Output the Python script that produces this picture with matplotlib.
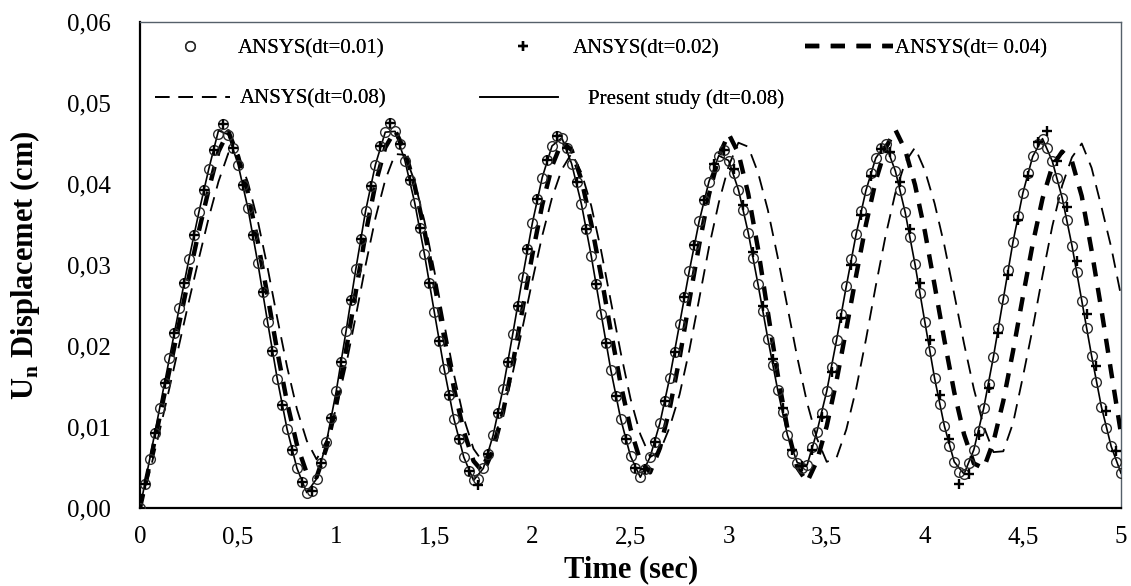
import numpy as np
import matplotlib
matplotlib.use("Agg")
import matplotlib.pyplot as plt
from matplotlib.ticker import FuncFormatter

plt.rcParams['font.family'] = ['Liberation Serif', 'DejaVu Serif']
plt.rcParams['mathtext.fontset'] = 'custom'
plt.rcParams['mathtext.rm'] = 'Liberation Serif'
plt.rcParams['mathtext.bf'] = 'Liberation Serif:bold'

# ---------------- data ----------------
# ANSYS dt=0.01 (circles), sampled every 0.025 s
t_dt001 = np.round(np.arange(0, 5.0001, 0.025), 3)
u_dt001 = [
    0.0000, 0.0030, 0.0061, 0.0092, 0.0123, 0.0154, 0.0185, 0.0216, 0.0247, 0.0278,
    0.0308, 0.0337, 0.0365, 0.0392, 0.0418, 0.0442, 0.0462, 0.0474, 0.0461, 0.0445,
    0.0424, 0.0399, 0.0370, 0.0337, 0.0303, 0.0267, 0.0230, 0.0194, 0.0159, 0.0127,
    0.0097, 0.0071, 0.0049, 0.0032, 0.0019, 0.0021, 0.0036, 0.0056, 0.0081, 0.0111,
    0.0144, 0.0180, 0.0218, 0.0257, 0.0295, 0.0332, 0.0367, 0.0398, 0.0424, 0.0447,
    0.0464, 0.0475, 0.0465, 0.0449, 0.0429, 0.0405, 0.0377, 0.0346, 0.0313, 0.0278,
    0.0242, 0.0206, 0.0172, 0.0140, 0.0110, 0.0085, 0.0063, 0.0046, 0.0034, 0.0036,
    0.0049, 0.0067, 0.0090, 0.0117, 0.0147, 0.0180, 0.0215, 0.0250, 0.0285, 0.0320,
    0.0352, 0.0382, 0.0408, 0.0430, 0.0447, 0.0459, 0.0457, 0.0444, 0.0425, 0.0402,
    0.0375, 0.0344, 0.0311, 0.0276, 0.0240, 0.0204, 0.0170, 0.0138, 0.0110, 0.0085,
    0.0064, 0.0049, 0.0038, 0.0048, 0.0063, 0.0082, 0.0105, 0.0132, 0.0161, 0.0193,
    0.0227, 0.0260, 0.0293, 0.0325, 0.0354, 0.0380, 0.0403, 0.0421, 0.0435, 0.0442,
    0.0429, 0.0413, 0.0393, 0.0368, 0.0340, 0.0309, 0.0276, 0.0243, 0.0209, 0.0177,
    0.0146, 0.0118, 0.0090, 0.0068, 0.0056, 0.0050, 0.0053, 0.0075, 0.0094, 0.0117,
    0.0144, 0.0174, 0.0207, 0.0240, 0.0274, 0.0307, 0.0338, 0.0367, 0.0392, 0.0414,
    0.0432, 0.0444, 0.0449, 0.0433, 0.0416, 0.0393, 0.0365, 0.0334, 0.0301, 0.0266,
    0.0230, 0.0194, 0.0160, 0.0129, 0.0101, 0.0077, 0.0057, 0.0044, 0.0042, 0.0055,
    0.0072, 0.0095, 0.0123, 0.0153, 0.0187, 0.0222, 0.0258, 0.0294, 0.0329, 0.0361,
    0.0389, 0.0414, 0.0434, 0.0449, 0.0456, 0.0444, 0.0428, 0.0408, 0.0383, 0.0355,
    0.0324, 0.0291, 0.0256, 0.0222, 0.0188, 0.0155, 0.0125, 0.0099, 0.0076, 0.0057,
    0.0043,
]

# ANSYS dt=0.02 (plus markers), sampled every 0.05 s starting at 0.025
t_dt002 = np.round(np.arange(0.025, 5.0, 0.05), 3)
u_dt002 = [
    0.0030, 0.0092, 0.0154, 0.0216, 0.0278, 0.0337, 0.0392, 0.0442, 0.0474, 0.0445,
    0.0399, 0.0337, 0.0267, 0.0194, 0.0127, 0.0071, 0.0032, 0.0021, 0.0056, 0.0111,
    0.0180, 0.0257, 0.0332, 0.0398, 0.0447, 0.0475, 0.0449, 0.0405, 0.0346, 0.0278,
    0.0206, 0.0140, 0.0085, 0.0046, 0.0028, 0.0067, 0.0117, 0.0180, 0.0250, 0.0320,
    0.0382, 0.0430, 0.0459, 0.0444, 0.0402, 0.0344, 0.0276, 0.0204, 0.0138, 0.0085,
    0.0049, 0.0048, 0.0082, 0.0132, 0.0193, 0.0260, 0.0325, 0.0380, 0.0425, 0.0442,
    0.0418, 0.0374, 0.0316, 0.0250, 0.0184, 0.0124, 0.0072, 0.0052, 0.0072, 0.0112,
    0.0168, 0.0234, 0.0300, 0.0362, 0.0410, 0.0443, 0.0440, 0.0402, 0.0345, 0.0278,
    0.0207, 0.0140, 0.0085, 0.0030, 0.0042, 0.0090, 0.0148, 0.0216, 0.0288, 0.0356,
    0.0410, 0.0452, 0.0466, 0.0428, 0.0372, 0.0305, 0.0240, 0.0175, 0.0120, 0.0070,
]

# ANSYS dt=0.04 (thick dashed) and dt=0.08 (thin dashed), every 0.05 s
t_grid = np.round(np.arange(0, 5.0001, 0.05), 2)
u_dt004 = [
    0.0000, 0.0055, 0.0112, 0.0170, 0.0228, 0.0286, 0.0342, 0.0393, 0.0440, 0.0465,
    0.0434, 0.0389, 0.0329, 0.0262, 0.0193, 0.0130, 0.0078, 0.0043, 0.0038, 0.0074,
    0.0127, 0.0194, 0.0267, 0.0339, 0.0400, 0.0445, 0.0466, 0.0441, 0.0398, 0.0342,
    0.0278, 0.0211, 0.0148, 0.0095, 0.0058, 0.0044, 0.0072, 0.0118, 0.0178, 0.0246,
    0.0313, 0.0374, 0.0422, 0.0452, 0.0442, 0.0405, 0.0351, 0.0287, 0.0218, 0.0153,
    0.0098, 0.0058, 0.0044, 0.0074, 0.0123, 0.0185, 0.0256, 0.0325, 0.0387, 0.0434,
    0.0462, 0.0438, 0.0388, 0.0320, 0.0242, 0.0165, 0.0098, 0.0050, 0.0032, 0.0058,
    0.0101, 0.0157, 0.0221, 0.0287, 0.0350, 0.0404, 0.0444, 0.0467, 0.0442, 0.0399,
    0.0342, 0.0275, 0.0207, 0.0143, 0.0091, 0.0055, 0.0049, 0.0082, 0.0132, 0.0194,
    0.0261, 0.0326, 0.0382, 0.0422, 0.0440, 0.0428, 0.0385, 0.0318, 0.0245, 0.0168,
    0.0092,
]
u_dt008 = [
    0.0000, 0.0045, 0.0095, 0.0148, 0.0202, 0.0256, 0.0308, 0.0358, 0.0403, 0.0438,
    0.0436, 0.0402, 0.0355, 0.0297, 0.0234, 0.0174, 0.0122, 0.0083, 0.0060, 0.0083,
    0.0123, 0.0176, 0.0237, 0.0300, 0.0358, 0.0405, 0.0437, 0.0436, 0.0403, 0.0354,
    0.0293, 0.0228, 0.0165, 0.0111, 0.0073, 0.0056, 0.0082, 0.0119, 0.0167, 0.0223,
    0.0281, 0.0336, 0.0383, 0.0418, 0.0438, 0.0414, 0.0373, 0.0318, 0.0255, 0.0192,
    0.0135, 0.0091, 0.0063, 0.0070, 0.0100, 0.0140, 0.0195, 0.0258, 0.0322, 0.0377,
    0.0422, 0.0451, 0.0446, 0.0414, 0.0368, 0.0310, 0.0248, 0.0186, 0.0130, 0.0086,
    0.0057, 0.0062, 0.0097, 0.0147, 0.0208, 0.0274, 0.0336, 0.0389, 0.0427, 0.0445,
    0.0417, 0.0376, 0.0324, 0.0264, 0.0203, 0.0147, 0.0101, 0.0069, 0.0070, 0.0105,
    0.0162, 0.0222, 0.0287, 0.0348, 0.0398, 0.0433, 0.0450, 0.0420, 0.0372, 0.0322,
    0.0262,
]
# Present study dt=0.08 (solid line), every 0.05 s
u_present = [
    0.0000, 0.0061, 0.0123, 0.0185, 0.0247, 0.0308, 0.0365, 0.0418, 0.0466, 0.0461,
    0.0424, 0.0370, 0.0303, 0.0230, 0.0159, 0.0097, 0.0049, 0.0019, 0.0036, 0.0081,
    0.0144, 0.0218, 0.0295, 0.0367, 0.0424, 0.0464, 0.0465, 0.0429, 0.0377, 0.0313,
    0.0242, 0.0172, 0.0110, 0.0063, 0.0034, 0.0049, 0.0090, 0.0147, 0.0215, 0.0285,
    0.0352, 0.0408, 0.0447, 0.0457, 0.0425, 0.0375, 0.0311, 0.0240, 0.0170, 0.0110,
    0.0064, 0.0038, 0.0063, 0.0105, 0.0161, 0.0227, 0.0293, 0.0354, 0.0403, 0.0435,
    0.0429, 0.0393, 0.0340, 0.0276, 0.0209, 0.0146, 0.0090, 0.0056, 0.0053, 0.0094,
    0.0144, 0.0207, 0.0274, 0.0338, 0.0392, 0.0432, 0.0449, 0.0416, 0.0365, 0.0301,
    0.0230, 0.0160, 0.0101, 0.0057, 0.0042, 0.0072, 0.0123, 0.0187, 0.0258, 0.0329,
    0.0389, 0.0434, 0.0456, 0.0428, 0.0383, 0.0324, 0.0256, 0.0188, 0.0125, 0.0076,
    0.0043,
]

x_ticks = [0, 0.5, 1, 1.5, 2, 2.5, 3, 3.5, 4, 4.5, 5]
y_ticks = [0.00, 0.01, 0.02, 0.03, 0.04, 0.05, 0.06]
labels = ["ANSYS(dt=0.01)", "ANSYS(dt=0.02)", "ANSYS(dt= 0.04)",
          "ANSYS(dt=0.08)", "Present study (dt=0.08)"]

# ---------------- figure ----------------
W, H = 1131, 586
fig = plt.figure(figsize=(W / 100, H / 100), dpi=100)
ax = fig.add_axes([140 / W, 1 - 508 / H, (1121 - 140) / W, (508 - 22) / H])

l_thin, = ax.plot(t_grid, u_dt008, color='black', lw=1.3, dashes=(8, 5),
                  zorder=2, label=labels[3])
l_thick, = ax.plot(t_grid, u_dt004, color='black', lw=3.2, dashes=(3.2, 2.6),
                   zorder=3, label=labels[2])
l_pres, = ax.plot(t_grid, u_present, color='black', lw=1.2, zorder=4,
                  label=labels[4])
l_circ, = ax.plot(t_dt001, u_dt001, ls='none', marker='o', ms=7, mfc='none',
                  mec='#2a2a2a', mew=1.0, zorder=5, label=labels[0])
l_plus, = ax.plot(t_dt002, u_dt002, ls='none', marker='+', ms=6.5,
                  mec='black', mew=1.7, zorder=6, label=labels[1])

ax.set_xlim(0, 5)
ax.set_ylim(0, 0.06)
ax.set_xticks(x_ticks)
ax.set_yticks(y_ticks)
ax.xaxis.set_major_formatter(FuncFormatter(
    lambda v, p: (f"{v:g}").replace('.', ',')))
ax.yaxis.set_major_formatter(FuncFormatter(
    lambda v, p: f"{v:.2f}".replace('.', ',')))
ax.tick_params(axis='both', length=0, labelsize=18)
ax.tick_params(axis='y', pad=21)
ax.tick_params(axis='x', pad=13)

for s in ['left', 'bottom']:
    ax.spines[s].set_linewidth(1.6)
    ax.spines[s].set_color('black')
for s in ['top', 'right']:
    ax.spines[s].set_linewidth(1.0)
    ax.spines[s].set_color('#55606a')

ax.set_xlabel("Time (sec)", fontsize=22, fontweight='bold')
ax.set_ylabel(r"U$_{\mathbf{n}}$ Displacemet (cm)", fontsize=22,
              fontweight='bold')
ax.xaxis.set_label_coords((631 - 140) / 981, -(555 - 508) / 486)
ax.yaxis.set_label_coords((42 - 140) / 981, 0.5)

# ---------------- legend (placed entry by entry, like the reference) -------
leg_specs = [
    (l_circ, labels[0], 152, 49, 3.6, 0.5),
    (l_plus, labels[1], 485, 49, 3.6, 0.6),
    (l_thick, labels[2], 805, 49, 4.2, 0.1),
    (l_thin, labels[3], 155, 99, 3.6, 0.48),
    (l_pres, labels[4], 480, 99, 3.75, 1.44),
]
for h, lab, xp, yp, hl, hp in leg_specs:
    lg = fig.legend([h], [lab], loc='center left',
                    bbox_to_anchor=(xp / W, 1 - yp / H),
                    bbox_transform=fig.transFigure, frameon=False,
                    fontsize=15, handlelength=hl, handletextpad=hp,
                    borderpad=0, borderaxespad=0, numpoints=1)
    fig.add_artist(lg)

fig.savefig("out.png", dpi=100)
